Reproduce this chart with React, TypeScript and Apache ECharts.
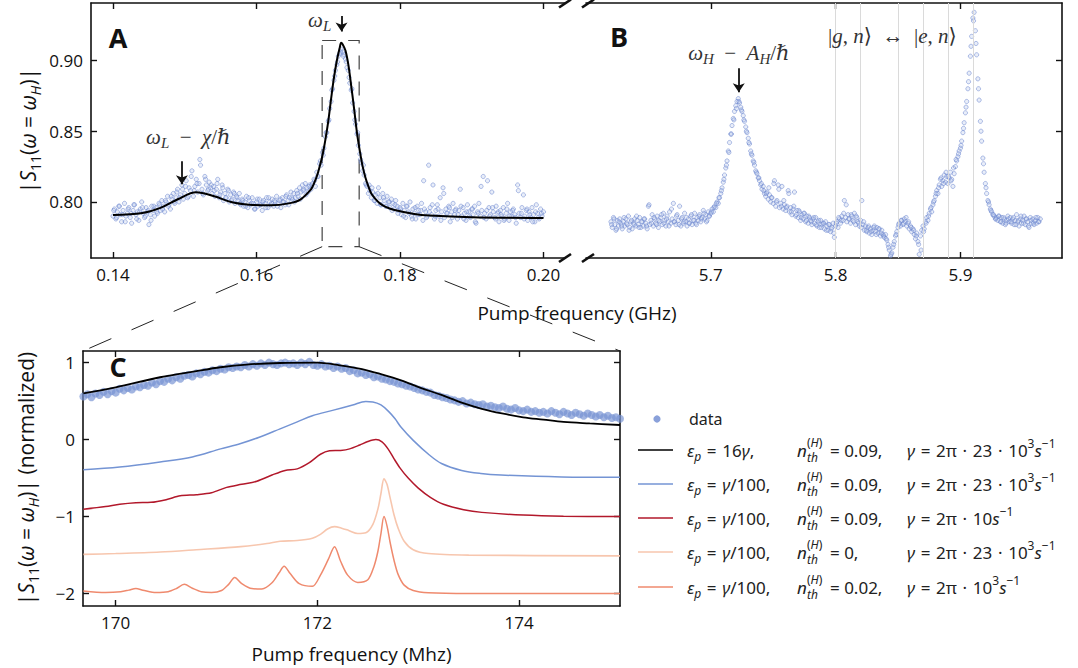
import React, { useEffect, useRef } from "react";
import * as echarts from "echarts";

const FONT = "'Open Sans', 'DejaVu Sans', sans-serif";
const SERIF = "'Liberation Serif', 'DejaVu Serif', serif";
const LEG_FONT = "'Noto Sans', 'DejaVu Sans', sans-serif";

// ---------- Panel A (low-frequency pump sweep, GHz) ----------
const A_START = 0.14;
const A_STEP = 0.0002;
const A_DATA = [
  0.790,0.795,0.788,0.793,0.797,0.791,0.786,0.794,0.799,0.790,
  0.792,0.796,0.789,0.785,0.794,0.798,0.791,0.793,0.787,0.795,
  0.800,0.792,0.789,0.796,0.793,0.784,0.791,0.797,0.794,0.790,
  0.796,0.792,0.799,0.794,0.801,0.797,0.793,0.800,0.804,0.798,
  0.795,0.802,0.806,0.799,0.803,0.809,0.800,0.805,0.812,0.802,
  0.806,0.815,0.803,0.810,0.808,0.822,0.804,0.811,0.816,0.807,
  0.813,0.826,0.809,0.805,0.818,0.812,0.808,0.814,0.810,0.806,
  0.811,0.804,0.809,0.816,0.803,0.807,0.812,0.801,0.806,0.803,
  0.809,0.800,0.805,0.802,0.807,0.799,0.804,0.801,0.806,0.798,
  0.802,0.797,0.800,0.804,0.796,0.801,0.798,0.803,0.799,0.795,
  0.800,0.797,0.802,0.798,0.794,0.801,0.799,0.803,0.796,0.800,
  0.798,0.802,0.797,0.800,0.804,0.799,0.801,0.796,0.803,0.800,
  0.798,0.805,0.801,0.803,0.807,
  0.802,0.806,0.803,0.808,0.804,0.810,0.807,0.812,0.809,0.813,
  0.810,0.807,0.812,0.809,0.813,
  0.816,0.811,0.821,0.818,0.827,0.826,0.835,0.838,0.846,0.849,
  0.857,0.866,0.871,0.880,0.886,0.893,0.897,0.903,0.905,0.908,
  0.906,0.904,0.901,0.895,0.893,0.884,0.879,0.870,0.864,0.855,
  0.848,0.840,0.834,0.828,0.822,0.819,0.813,0.811,0.806,0.808,
  0.803,
  0.807,0.801,0.805,0.799,0.810,0.803,0.798,0.806,0.801,0.797,
  0.804,0.800,0.796,0.802,0.799,0.795,0.801,0.797,0.794,
  0.796,0.791,0.799,0.794,0.789,0.797,0.793,0.800,0.790,0.795,
  0.792,0.788,0.797,0.794,0.791,0.799,0.787,0.795,0.793,0.790,
  0.826,0.796,0.791,0.812,0.788,0.794,0.798,0.790,0.803,0.793,
  0.810,0.789,0.795,0.792,0.797,0.786,0.793,0.799,0.791,0.795,
  0.788,0.794,0.809,0.790,0.796,0.792,0.787,0.798,0.793,0.789,
  0.795,0.791,0.797,0.785,0.793,0.799,0.790,0.794,0.818,0.792,
  0.788,0.815,0.796,0.791,0.807,0.793,0.789,0.797,0.792,0.786,
  0.794,0.790,0.796,0.788,0.792,0.799,0.787,0.793,0.790,0.795,
  0.791,0.785,0.812,0.792,0.789,0.796,0.805,0.790,0.794,0.787,
  0.793,0.789,0.796,0.791,0.786,0.798,0.792,0.788,0.795,0.790,0.793,
];
// second pass of the same sweep (interleaved frequencies)
const A2_START = 0.1401;
const A2_STEP = 0.0004;
const A_DATA2 = [
  0.794,0.789,0.797,0.791,0.786,0.795,0.792,0.798,0.788,0.793,0.796,0.790,0.794,0.787,0.797,
  0.793,0.798,0.795,0.801,0.797,0.804,0.800,0.807,0.803,0.809,
  0.811,0.804,0.818,0.808,0.813,0.830,0.806,0.816,0.809,0.812,
  0.808,0.813,0.805,0.810,0.803,0.808,0.801,0.806,0.803,0.799,
  0.801,0.797,0.803,0.799,0.795,0.802,0.798,0.800,0.796,0.803,0.799,0.801,0.797,0.802,0.800,0.804,0.798,
  0.803,0.800,0.806,0.802,0.808,0.805,0.811,
  0.812,0.815,0.818,0.829,0.833,0.849,0.858,0.879,0.889,0.899,0.906,0.903,0.899,0.888,0.880,0.858,0.849,0.830,0.826,0.812,0.812,
  0.810,0.801,0.806,0.798,0.803,0.797,0.800,0.794,0.798,0.792,
  0.795,0.790,0.797,0.792,0.788,0.796,0.791,0.794,0.815,0.789,
  0.793,0.798,0.790,0.795,0.787,0.806,0.792,0.796,0.789,0.794,
  0.791,0.797,0.788,0.793,0.790,0.795,0.786,0.792,0.811,0.789,
  0.794,0.790,0.796,0.788,0.793,0.791,0.787,0.795,0.790,0.794,
  0.789,0.808,0.792,0.788,0.795,0.791,0.786,0.793,0.789,0.792,
];
const A_FIT_X = [0.14,0.1441,0.1466,0.1491,0.1516,0.1541,0.1566,0.159,0.162,0.1645,0.1661,0.1676,0.168,0.1684,0.1688,0.1692,0.1696,0.17,0.1704,0.1708,0.1712,0.1716,0.1718,0.172,0.1724,0.1728,0.1732,0.1736,0.174,0.1744,0.1748,0.1752,0.1756,0.176,0.1766,0.1772,0.178,0.1791,0.182,0.1841,0.19,0.2];
const A_FIT_Y = [0.7908,0.7922,0.7958,0.8021,0.8068,0.804,0.7998,0.7981,0.7976,0.799,0.8017,0.809,0.813,0.818,0.825,0.833,0.844,0.857,0.873,0.888,0.9,0.909,0.9125,0.9115,0.907,0.897,0.882,0.866,0.849,0.836,0.825,0.817,0.811,0.806,0.802,0.799,0.7965,0.7945,0.7915,0.7904,0.7892,0.7887];
const A_XTICKS = [0.14, 0.16, 0.18, 0.2];
const AB_YTICKS = [0.8, 0.85, 0.9];
const A_X_MIN = 0.13693, A_X_MAX = 0.2030;
const AB_Y_MIN = 0.7604, AB_Y_MAX = 0.9406;
const A_ZOOM_BOX = [0.16915, 0.9141, 0.17431, 0.7684];

// ---------- Panel B (high-frequency pump sweep, GHz) ----------
const B_START = 5.62;
const B_STEP = 0.001;
const B_DATA = [
  0.786,0.782,0.789,0.784,0.780,0.787,0.783,0.788,0.785,0.781,
  0.786,0.783,0.788,0.784,0.790,0.782,0.786,0.781,0.785,0.788,
  0.783,0.787,0.784,0.789,0.782,0.786,0.783,0.788,0.785,0.781,
  0.797,0.784,0.787,0.791,0.783,0.788,0.785,0.790,0.782,0.786,
  0.789,0.784,0.792,0.787,0.783,0.790,0.786,0.793,0.785,0.788,
  0.799,0.786,0.784,0.791,0.787,0.797,0.783,0.789,0.785,0.792,
  0.786,0.783,0.788,0.785,0.790,0.784,0.787,0.792,0.785,0.789,
  0.787,0.791,0.786,0.789,0.794,0.788,0.791,0.787,0.793,0.790,
  0.792,0.795,0.793,0.797,0.796,0.800,0.799,0.803,0.806,0.810,
  0.814,0.819,0.824,0.829,0.836,0.842,0.848,0.854,0.859,0.864,
  0.868,0.871,0.873,0.870,0.867,0.864,0.861,0.857,0.853,0.849,
  0.845,0.841,0.836,0.833,0.829,0.826,0.822,0.820,0.817,0.815,
  0.812,0.809,0.811,0.806,0.804,0.807,0.802,0.805,0.800,0.803,
  0.799,0.815,0.797,0.801,0.812,0.796,0.799,0.811,0.795,0.798,
  0.794,0.797,0.808,0.793,0.796,0.791,0.795,0.807,0.790,0.794,
  0.789,0.793,0.787,0.791,0.788,0.792,0.786,0.790,0.785,0.789,
  0.787,0.784,0.788,0.785,0.789,0.783,0.786,0.782,0.787,0.784,
  0.785,0.781,0.786,0.783,0.780,0.784,0.779,0.782,0.785,0.775,
  0.783,0.786,0.782,0.788,0.785,0.790,0.787,0.801,0.789,0.786,
  0.791,0.788,0.785,0.790,0.787,0.792,0.784,0.789,0.786,0.783,
  0.787,0.801,0.784,0.780,0.783,0.779,0.782,0.778,0.781,0.777,
  0.780,0.783,0.779,0.782,0.778,0.781,0.776,0.780,0.777,0.775,
  0.777,0.773,0.770,0.766,0.762,0.764,0.768,0.772,0.776,0.779,
  0.782,0.785,0.783,0.787,0.784,0.788,0.786,0.783,0.785,0.781,
  0.783,0.779,0.781,0.777,0.774,0.778,0.772,0.763,0.776,0.780,
  0.783,0.781,0.786,0.789,0.787,0.792,0.795,0.793,0.798,0.801,
  0.804,0.808,0.806,0.812,0.816,0.811,0.815,0.819,0.814,0.818,
  0.813,0.817,0.821,0.816,0.811,0.820,0.825,0.829,0.832,0.836,
  0.838,0.843,0.849,0.856,0.863,0.871,0.880,0.891,0.903,0.917,
  0.930,0.934,0.921,0.904,0.887,0.872,0.857,0.843,0.831,0.821,
  0.813,0.806,0.801,0.798,0.795,0.793,0.791,0.790,0.788,0.789,
  0.787,0.790,0.786,0.789,0.785,0.788,0.784,0.787,0.790,0.786,
  0.789,0.785,0.788,0.784,0.787,0.791,0.786,0.783,0.788,0.785,
  0.787,0.790,0.784,0.788,0.786,0.782,0.789,0.785,0.788,0.784,
  0.787,0.785,0.789,0.786,0.788,
];
const B2_START = 5.6205;
const B2_STEP = 0.002;
const B_DATA2 = [
  0.784,0.788,0.781,0.786,0.783,0.789,0.785,0.780,0.787,0.784,
  0.790,0.782,0.786,0.788,0.783,0.798,0.785,0.789,0.784,0.787,
  0.791,0.785,0.788,0.783,0.795,0.786,0.790,0.784,0.788,0.786,
  0.789,0.785,0.791,0.787,0.784,0.790,0.788,0.792,0.786,0.790,
  0.793,0.796,0.799,0.803,0.808,
  0.816,0.826,0.835,0.848,0.858,
  0.866,0.871,0.865,0.858,0.850,
  0.842,0.834,0.828,0.821,0.817,
  0.813,0.808,0.806,0.810,0.803,0.813,0.800,0.809,0.797,0.801,
  0.796,0.806,0.793,0.797,0.791,0.794,0.789,0.792,0.787,0.790,
  0.786,0.789,0.784,0.787,0.782,0.785,0.780,0.784,0.781,0.778,
  0.785,0.789,0.787,0.792,0.798,0.788,0.791,0.786,0.790,0.785,
  0.782,0.786,0.780,0.783,0.779,0.782,0.777,0.781,0.778,0.776,
  0.774,0.768,0.763,0.770,0.777,
  0.784,0.787,0.785,0.789,0.786,0.782,0.780,0.776,0.770,0.766,
  0.779,0.785,0.790,0.796,0.800,0.806,0.810,0.817,0.813,0.821,
  0.818,0.815,0.824,0.830,0.834,
  0.840,0.852,0.867,0.885,0.910,
  0.928,0.912,0.880,0.850,0.827,
  0.810,0.800,0.794,0.791,0.788,0.790,0.786,0.789,0.785,0.788,
  0.786,0.789,0.784,0.787,0.790,0.785,0.788,0.783,0.787,0.785,0.789,0.786,
];
const B_LINES = [5.8, 5.823, 5.846, 5.868, 5.889, 5.911];
const B_XTICKS = [5.7, 5.8, 5.9];
const B_X_MIN = 5.6, B_X_MAX = 5.9814;

// ---------- Panel C (zoom, MHz) ----------
const C_START = 169.68;
const C_STEP = 0.04;
const C_DATA = [
  0.56,0.59,0.55,0.60,0.58,0.62,0.59,0.63,0.61,0.66,
  0.64,0.67,0.65,0.69,0.68,0.71,0.70,0.74,0.72,0.76,
  0.75,0.79,0.77,0.81,0.79,0.83,0.84,0.82,0.86,0.85,
  0.88,0.87,0.90,0.89,0.92,0.91,0.94,0.93,0.95,0.94,
  0.97,0.95,0.98,0.96,0.99,0.97,1.00,0.98,0.97,0.99,
  1.00,0.98,0.99,0.97,1.00,0.98,1.01,0.97,0.96,0.98,
  0.95,0.96,0.93,0.95,0.92,0.93,0.89,0.90,0.86,0.87,
  0.84,0.85,0.81,0.82,0.79,0.78,0.76,0.75,0.73,0.72,
  0.70,0.69,0.67,0.65,0.64,0.62,0.61,0.58,0.57,0.55,
  0.54,0.52,0.51,0.49,0.50,0.47,0.48,0.46,0.45,0.46,
  0.43,0.44,0.42,0.41,0.43,0.40,0.39,0.41,0.38,0.37,
  0.39,0.36,0.37,0.35,0.36,0.34,0.37,0.35,0.33,0.36,
  0.34,0.32,0.35,0.33,0.31,0.34,0.32,0.30,0.32,0.29,
  0.31,0.28,0.29,0.27,
];
const C_BLACK_X = [169.68,170.0,170.44,170.8,171.04,171.3,171.63,172.0,172.2,172.43,172.63,172.83,173.03,173.23,173.43,173.63,173.83,174.04,174.24,174.44,174.7,175.0];
const C_BLACK_Y = [0.60,0.68,0.81,0.89,0.94,0.975,0.995,1.0,0.97,0.92,0.85,0.77,0.67,0.58,0.48,0.40,0.34,0.29,0.26,0.23,0.21,0.19];
const C_BLUE_X = [169.68,170.04,170.44,170.76,171.04,171.24,171.43,171.63,171.8,171.95,172.15,172.35,172.48,172.55,172.63,172.71,172.77,172.83,172.95,173.11,173.23,173.43,173.62,173.82,174.42,175.0];
const C_BLUE_Y = [-0.39,-0.355,-0.29,-0.225,-0.12,-0.05,0.035,0.14,0.23,0.31,0.38,0.45,0.495,0.49,0.45,0.36,0.27,0.16,-0.01,-0.20,-0.31,-0.40,-0.44,-0.46,-0.485,-0.49];
const C_RED_X = [169.68,169.9,170.04,170.2,170.35,170.5,170.64,170.8,170.95,171.1,171.25,171.4,171.55,171.68,171.8,171.92,172.03,172.12,172.23,172.32,172.42,172.5,172.58,172.64,172.7,172.76,172.82,172.9,173.0,173.12,173.25,173.45,173.63,174.04,174.44,175.0];
const C_RED_Y = [-0.905,-0.87,-0.84,-0.82,-0.815,-0.78,-0.73,-0.715,-0.69,-0.62,-0.58,-0.54,-0.46,-0.40,-0.38,-0.30,-0.19,-0.145,-0.14,-0.12,-0.07,-0.025,0.0,-0.03,-0.12,-0.25,-0.37,-0.50,-0.63,-0.75,-0.84,-0.91,-0.945,-0.98,-0.995,-1.0];
const C_PEACH_X = [169.68,170.0,170.44,170.8,171.24,171.5,171.63,171.8,171.95,172.03,172.1,172.17,172.24,172.31,172.4,172.48,172.55,172.6,172.63,172.66,172.69,172.72,172.76,172.8,172.86,172.95,173.1,173.5,175.0];
const C_PEACH_Y = [-1.49,-1.48,-1.46,-1.43,-1.39,-1.35,-1.32,-1.31,-1.28,-1.23,-1.16,-1.13,-1.15,-1.18,-1.22,-1.21,-1.10,-0.90,-0.70,-0.51,-0.58,-0.75,-0.98,-1.15,-1.32,-1.43,-1.48,-1.50,-1.51];
const C_CORAL_X = [169.68,169.9,170.05,170.13,170.2,170.27,170.4,170.52,170.6,170.68,170.76,170.85,170.95,171.05,171.12,171.18,171.25,171.35,171.45,171.55,171.62,171.67,171.73,171.82,171.95,172.03,172.11,172.17,172.23,172.3,172.4,172.5,172.56,172.6,172.63,172.66,172.69,172.72,172.76,172.8,172.86,172.95,173.1,173.5,175.0];
const C_CORAL_Y = [-1.965,-1.985,-1.975,-1.955,-1.935,-1.955,-1.985,-1.975,-1.935,-1.88,-1.93,-1.975,-1.985,-1.96,-1.88,-1.79,-1.87,-1.935,-1.94,-1.86,-1.73,-1.645,-1.74,-1.87,-1.905,-1.76,-1.55,-1.39,-1.58,-1.76,-1.855,-1.82,-1.65,-1.45,-1.22,-1.0,-1.12,-1.33,-1.57,-1.75,-1.89,-1.96,-1.99,-2.0,-2.0];
const C_XTICKS = [170, 172, 174];
const C_YTICKS = [-2, -1, 0, 1];
const C_X_MIN = 169.676, C_X_MAX = 175.0;
const C_Y_MIN = -2.161, C_Y_MAX = 1.151;

// ---------- Legend ----------
const E = "\u2004";
const LEGEND_COLORS = ["#000000", "#7494d4", "#b2182b", "#f7c6ae", "#ef8a6e"];
const LEGEND_EPS = [
  `{i|ε}{s|p}{r|${E}=${E}16}{i|γ}{r|,}`,
  `{i|ε}{s|p}{r|${E}=${E}}{i|γ}{r|/100,}`,
  `{i|ε}{s|p}{r|${E}=${E}}{i|γ}{r|/100,}`,
  `{i|ε}{s|p}{r|${E}=${E}}{i|γ}{r|/100,}`,
  `{i|ε}{s|p}{r|${E}=${E}}{i|γ}{r|/100,}`,
];
const LEGEND_NTH = ["0.09,", "0.09,", "0.09,", "0,", "0.02,"];
const LEGEND_GAMMA = [
  `{i|γ}{r|${E}=${E}2π${E}·${E}23${E}·${E}10}{p|3}{i|s}{p|−1}`,
  `{i|γ}{r|${E}=${E}2π${E}·${E}23${E}·${E}10}{p|3}{i|s}{p|−1}`,
  `{i|γ}{r|${E}=${E}2π${E}·${E}10}{i|s}{p|−1}`,
  `{i|γ}{r|${E}=${E}2π${E}·${E}23${E}·${E}10}{p|3}{i|s}{p|−1}`,
  `{i|γ}{r|${E}=${E}2π${E}·${E}10}{p|3}{i|s}{p|−1}`,
];

const pairs = (xs: number[], ys: number[]) => xs.map((x, i) => [x, ys[i]]);
const sweep = (start: number, step: number, ys: number[]) =>
  ys.map((y, i) => [+(start + i * step).toFixed(6), y]);

function mkAxis(o: any) {
  return {
    type: "value",
    gridIndex: o.grid,
    position: o.pos,
    min: o.min,
    max: o.max,
    splitLine: { show: false },
    axisLine: { show: o.line !== false, onZero: false, lineStyle: { color: "#111", width: 1.6 } },
    axisTick: {
      show: true,
      inside: true,
      length: 6,
      lineStyle: { color: "#111", width: 1.4 },
      customValues: o.ticks,
    },
    axisLabel: o.fmt
      ? { show: true, customValues: o.ticks, formatter: o.fmt, margin: 8, fontSize: 17, color: "#111", fontFamily: FONT }
      : { show: false },
    ...(o.extra || {}),
  };
}

const yNameRich = {
  i: { fontFamily: FONT, fontSize: 21, fontStyle: "italic", color: "#111" },
  sub: { fontFamily: FONT, fontSize: 14, color: "#111", verticalAlign: "bottom" },
  isub: { fontFamily: FONT, fontSize: 14, fontStyle: "italic", color: "#111", verticalAlign: "bottom" },
};

const cloudStyle = { color: "rgba(165,182,230,0.3)", borderColor: "rgba(108,134,206,0.75)", borderWidth: 0.9 };

function buildOption() {
  const minus = (v: number) => (v < 0 ? "−" + Math.abs(v) : String(v));
  return {
    animation: false,
    backgroundColor: "#ffffff",
    textStyle: { fontFamily: FONT },
    grid: [
      { left: 91, top: 3, width: 474, height: 255, containLabel: false, outerBoundsMode: "none" },
      { left: 586, top: 3, width: 476, height: 255, containLabel: false, outerBoundsMode: "none" },
      { left: 83, top: 351, width: 537, height: 255, containLabel: false, outerBoundsMode: "none" },
    ],
    xAxis: [
      mkAxis({ grid: 0, pos: "bottom", min: A_X_MIN, max: A_X_MAX, ticks: A_XTICKS, fmt: (v: number) => v.toFixed(2) }),
      mkAxis({ grid: 0, pos: "top", min: A_X_MIN, max: A_X_MAX, ticks: A_XTICKS }),
      mkAxis({ grid: 1, pos: "bottom", min: B_X_MIN, max: B_X_MAX, ticks: B_XTICKS, fmt: (v: number) => v.toFixed(1) }),
      mkAxis({ grid: 1, pos: "top", min: B_X_MIN, max: B_X_MAX, ticks: B_XTICKS }),
      mkAxis({
        grid: 2, pos: "bottom", min: C_X_MIN, max: C_X_MAX, ticks: C_XTICKS, fmt: (v: number) => String(v),
        extra: {
          name: "Pump frequency (Mhz)",
          nameLocation: "middle",
          nameGap: 38,
          nameTextStyle: { fontSize: 19, color: "#111", fontFamily: FONT },
        },
      }),
      mkAxis({ grid: 2, pos: "top", min: C_X_MIN, max: C_X_MAX, ticks: C_XTICKS }),
    ],
    yAxis: [
      mkAxis({
        grid: 0, pos: "left", min: AB_Y_MIN, max: AB_Y_MAX, ticks: AB_YTICKS, fmt: (v: number) => v.toFixed(2),
        extra: {
          name: "|{i|S}{sub|11}({i|ω} = {i|ω}{isub|H})|",
          nameLocation: "middle",
          nameGap: 49,
          nameTextStyle: { fontSize: 21, color: "#111", fontFamily: FONT, lineHeight: 28, rich: yNameRich },
        },
      }),
      mkAxis({ grid: 1, pos: "right", min: AB_Y_MIN, max: AB_Y_MAX, ticks: AB_YTICKS }),
      mkAxis({
        grid: 2, pos: "left", min: C_Y_MIN, max: C_Y_MAX, ticks: C_YTICKS, fmt: minus,
        extra: {
          name: "|{i|S}{sub|11}({i|ω} = {i|ω}{isub|H})| (normalized)",
          nameLocation: "middle",
          nameGap: 43,
          nameTextStyle: { fontSize: 21, color: "#111", fontFamily: FONT, lineHeight: 28, rich: yNameRich },
        },
      }),
      mkAxis({ grid: 2, pos: "right", min: C_Y_MIN, max: C_Y_MAX, ticks: C_YTICKS }),
    ],
    series: [
      {
        // 0: panel A data
        type: "scatter", xAxisIndex: 0, yAxisIndex: 0, z: 2,
        data: sweep(A_START, A_STEP, A_DATA).concat(sweep(A2_START, A2_STEP, A_DATA2)),
        symbol: "circle", symbolSize: 4.2,
        itemStyle: cloudStyle,
        silent: true,
      },
      {
        // 1: panel A fit
        type: "line", xAxisIndex: 0, yAxisIndex: 0, z: 4,
        data: pairs(A_FIT_X, A_FIT_Y),
        smooth: 0.35, showSymbol: false, symbol: "none",
        lineStyle: { color: "#000", width: 2 },
        silent: true,
        markArea: {
          silent: true,
          itemStyle: { color: "rgba(0,0,0,0)", borderColor: "#444", borderWidth: 1.2, borderType: [14, 12] },
          label: { show: false },
          data: [[{ coord: [A_ZOOM_BOX[0], A_ZOOM_BOX[1]] }, { coord: [A_ZOOM_BOX[2], A_ZOOM_BOX[3]] }]],
        },
        markLine: {
          silent: true,
          symbol: ["none", "arrow"],
          symbolSize: 9,
          label: { show: false },
          lineStyle: { color: "#111", width: 1.8, type: "solid" },
          data: [
            [{ coord: [0.1496, 0.8287] }, { coord: [0.1496, 0.8125] }],
            [{ coord: [0.17185, 0.9315] }, { coord: [0.17185, 0.9205] }],
          ],
        },
      },
      {
        // 2: panel B vertical guides
        type: "line", xAxisIndex: 2, yAxisIndex: 1, z: 1, data: [],
        markLine: {
          silent: true,
          symbol: ["none", "none"],
          label: { show: false },
          lineStyle: { color: "#dadada", width: 1, type: "solid" },
          data: B_LINES.map((x) => ({ xAxis: x })),
        },
      },
      {
        // 3: panel B data
        type: "scatter", xAxisIndex: 2, yAxisIndex: 1, z: 2,
        data: sweep(B_START, B_STEP, B_DATA).concat(sweep(B2_START, B2_STEP, B_DATA2)),
        symbol: "circle", symbolSize: 4.2,
        itemStyle: cloudStyle,
        silent: true,
        markLine: {
          silent: true,
          symbol: ["none", "arrow"],
          symbolSize: 9,
          label: { show: false },
          lineStyle: { color: "#111", width: 1.8, type: "solid" },
          data: [[{ coord: [5.7224, 0.8945] }, { coord: [5.7224, 0.8775] }]],
        },
      },
      {
        // 4: panel C data
        type: "scatter", xAxisIndex: 4, yAxisIndex: 2, z: 2,
        data: sweep(C_START, C_STEP, C_DATA),
        symbol: "circle", symbolSize: 8,
        itemStyle: { color: "rgba(118,146,211,0.85)" },
        silent: true,
      },
      {
        type: "line", xAxisIndex: 4, yAxisIndex: 2, z: 5, data: pairs(C_BLACK_X, C_BLACK_Y),
        smooth: 0.35, symbol: "none", lineStyle: { color: LEGEND_COLORS[0], width: 1.8 }, silent: true,
      },
      {
        type: "line", xAxisIndex: 4, yAxisIndex: 2, z: 3, data: pairs(C_BLUE_X, C_BLUE_Y),
        smooth: 0.35, symbol: "none", lineStyle: { color: LEGEND_COLORS[1], width: 1.5 }, silent: true,
      },
      {
        type: "line", xAxisIndex: 4, yAxisIndex: 2, z: 3, data: pairs(C_RED_X, C_RED_Y),
        smooth: 0.3, symbol: "none", lineStyle: { color: LEGEND_COLORS[2], width: 1.5 }, silent: true,
      },
      {
        type: "line", xAxisIndex: 4, yAxisIndex: 2, z: 3, data: pairs(C_PEACH_X, C_PEACH_Y),
        smooth: 0.3, symbol: "none", lineStyle: { color: LEGEND_COLORS[3], width: 1.6 }, silent: true,
      },
      {
        type: "line", xAxisIndex: 4, yAxisIndex: 2, z: 3, data: pairs(C_CORAL_X, C_CORAL_Y),
        smooth: 0.3, symbol: "none", lineStyle: { color: LEGEND_COLORS[4], width: 1.5 }, silent: true,
      },
    ],
  };
}

const MS = 21;
const mathRich = {
  i: { fontFamily: SERIF, fontSize: MS, fontStyle: "italic", fill: "#333" },
  r: { fontFamily: SERIF, fontSize: MS, fill: "#333" },
  s: { fontFamily: SERIF, fontSize: 15, fontStyle: "italic", fill: "#333", verticalAlign: "bottom" },
};
const LS = 17;
const legRich = {
  i: { fontFamily: LEG_FONT, fontSize: LS, fontStyle: "italic", fill: "#222" },
  r: { fontFamily: LEG_FONT, fontSize: LS, fill: "#222" },
  d: { fontFamily: LEG_FONT, fontSize: 16, fill: "#222" },
  s: { fontFamily: LEG_FONT, fontSize: 12, fontStyle: "italic", fill: "#222", verticalAlign: "bottom" },
  p: { fontFamily: LEG_FONT, fontSize: 12, fill: "#222", verticalAlign: "top" },
};

function mathText(x: number, y: number, text: string) {
  return {
    type: "text", x, y, silent: true, z: 50,
    style: {
      text, rich: mathRich, fontFamily: SERIF, fontSize: MS, fill: "#333",
      align: "center", verticalAlign: "middle", lineHeight: 28,
    },
  };
}
function legText(x: number, y: number, text: string) {
  return {
    type: "text", x, y, silent: true, z: 50,
    style: {
      text, rich: legRich, fontFamily: LEG_FONT, fontSize: LS, fill: "#222",
      align: "left", verticalAlign: "middle", lineHeight: 25,
    },
  };
}
function smallText(x: number, y: number, text: string) {
  return {
    type: "text", x, y, silent: true, z: 51,
    style: {
      text,
      rich: {
        p: { fontFamily: LEG_FONT, fontSize: 12, fill: "#222" },
        q: { fontFamily: LEG_FONT, fontSize: 12, fontStyle: "italic", fill: "#222" },
      },
      fontFamily: LEG_FONT, fontSize: 12, fill: "#222",
      align: "left", verticalAlign: "middle", lineHeight: 14,
    },
  };
}
function seg(x1: number, y1: number, x2: number, y2: number, style: any) {
  return { type: "line", silent: true, z: 60, shape: { x1, y1, x2, y2 }, style };
}

export default function App() {
  const ref = useRef<HTMLDivElement>(null);
  useEffect(() => {
    const chart = echarts.init(ref.current!, null, { renderer: "svg" });
    chart.setOption(buildOption() as any);

    const px = (si: number, v: number[]) => chart.convertToPixel({ seriesIndex: si } as any, v) as unknown as number[];
    const g: any[] = [];

    // panel letters
    const letter = (x: number, y: number, t: string) => ({
      type: "text", x, y, silent: true, z: 50,
      style: { text: t, font: `bold 27px ${FONT}`, fill: "#111", align: "center", verticalAlign: "middle" },
    });
    g.push(letter(118, 37, "A"), letter(619, 36, "B"), letter(118, 366, "C"));

    // shared x title for A/B
    g.push({
      type: "text", x: 577, y: 313, silent: true, z: 50,
      style: { text: "Pump frequency (GHz)", fontFamily: FONT, fontSize: 19, fill: "#111", align: "center", verticalAlign: "middle" },
    });

    // axis break marks
    const brk = { stroke: "#111", lineWidth: 2.6 };
    g.push(seg(559, 262, 571, 254, brk), seg(582, 262, 594, 254, brk));
    g.push(seg(559, 7.5, 571, -0.5, brk), seg(582, 7.5, 594, -0.5, brk));

    // zoom connectors from A's box to C's frame
    const bl = px(1, [A_ZOOM_BOX[0], A_ZOOM_BOX[3]]);
    const br = px(1, [A_ZOOM_BOX[2], A_ZOOM_BOX[3]]);
    const cl = px(5, [C_X_MIN, C_Y_MAX]);
    const cr = px(5, [C_X_MAX, C_Y_MAX]);
    const dash = { stroke: "#222", lineWidth: 1, lineDash: [24, 22] };
    g.push(seg(bl[0], bl[1], cl[0], cl[1], dash), seg(br[0], br[1], cr[0], cr[1], dash));

    // annotations
    const sp = "\u2005";
    const a1 = px(1, [0.1505, 0.846]);
    g.push(mathText(a1[0], a1[1], `{i|ω}{s|L}{r| ${sp}−${sp} }{i|χ}{r|/}{i|ℏ}`));
    const a2 = px(1, [0.1688, 0.9288]);
    g.push(mathText(a2[0], a2[1], "{i|ω}{s|L}"));
    const b1 = px(3, [5.7225, 0.9054]);
    g.push(mathText(b1[0], b1[1], `{i|ω}{s|H}{r| ${sp}−${sp} }{i|A}{s|H}{r|/}{i|ℏ}`));
    const b2 = px(3, [5.8455, 0.917]);
    g.push(mathText(b2[0], b2[1], `{r||}{i|g}{r|, }{i|n}{r|⟩ ${sp}↔${sp} |}{i|e}{r|, }{i|n}{r|⟩}`));

    // legend
    g.push({ type: "circle", silent: true, z: 50, shape: { cx: 657, cy: 419, r: 3.6 }, style: { fill: "#8aa1da" } });
    g.push(legText(689, 419, "{d|data}"));
    const rowY = [450, 484, 518, 552, 587];
    LEGEND_COLORS.forEach((c, k) => {
      const y = rowY[k];
      g.push(seg(638, y, 673, y, { stroke: c, lineWidth: 1.6 }));
      g.push(legText(687, y, LEGEND_EPS[k]));
      // n_th^(H) = value
      g.push(legText(797, y, "{i|n}"));
      g.push(smallText(807, y + 7, "{q|th}"));
      g.push(smallText(807, y - 8, "{p|(}{q|H}{p|)}"));
      g.push(legText(830, y, `{r|= ${LEGEND_NTH[k]}}`));
      g.push(legText(907, y, LEGEND_GAMMA[k]));
    });

    chart.setOption({ graphic: g } as any);
    return () => chart.dispose();
  }, []);
  return (
    <div
      ref={ref}
      style={{ position: "absolute", left: 0, top: 0, width: 1078, height: 668, background: "#fff" }}
    />
  );
}
